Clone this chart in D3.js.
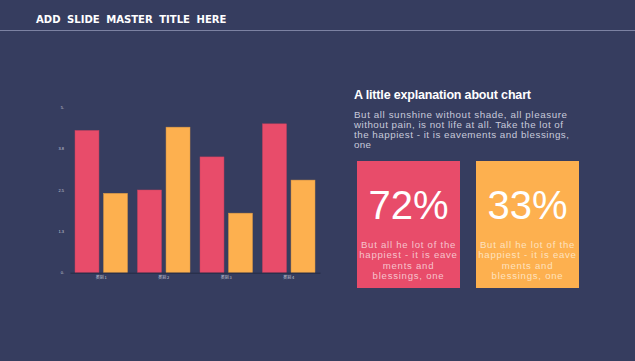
<!DOCTYPE html>
<html><head><meta charset="utf-8">
<script src="https://cdn.jsdelivr.net/npm/d3@7"></script>
<style>
html,body{margin:0;padding:0;background:#363d5f;}
svg{display:block;}
</style></head>
<body>
<svg id="chart" width="635" height="361"></svg>
<script>
const categories = ["类别 1", "类别 2", "类别 3", "类别 4"];
const series1 = [4.3, 2.5, 3.5, 4.5];
const series2 = [2.4, 4.4, 1.8, 2.8];
const tickValues = [0, 1.25, 2.5, 3.75, 5];
const tickLabels = ["0.", "1.3", "2.5", "3.8", "5."];
const cardValues = ["72%", "33%"];
const cardLines = ["But all he lot of the", "happiest - it is eave", "ments and", "blessings, one"];
const bodyLines = ["But all sunshine without shade, all pleasure", "without pain, is not life at all. Take the lot of", "the happiest - it is eavements and blessings,", "one"];
const bodyWidths = [213, 209, 215, 17];

const red = "#e84c6a", orange = "#fdb04f";
const svg = d3.select("#chart");
svg.append("rect").attr("width",635).attr("height",361).attr("fill","#363d5f");

// header
svg.append("text").attr("x",36).attr("y",23).attr("fill","#ffffff")
  .attr("font-family","DejaVu Sans Condensed, DejaVu Sans").attr("font-weight","bold").attr("font-size",11.2)
  .attr("word-spacing",3)
  .text("ADD SLIDE MASTER TITLE HERE");
svg.append("line").attr("x1",0).attr("x2",635).attr("y1",30.5).attr("y2",30.5)
  .attr("stroke","#7c82a2").attr("stroke-width",1);

// chart
const x0 = d3.scaleBand().domain(categories).range([70,320]).paddingInner(0.16).paddingOuter(0.08);
const x1 = d3.scaleBand().domain([0,1]).range([0,x0.bandwidth()]).paddingInner(0.16);
const y = d3.scaleLinear().domain([0,5]).range([272.7,107.3]);

const g = svg.append("g");
const data = categories.map((c,i)=>({c, v:[series1[i], series2[i]]}));
const grp = g.selectAll("g.grp").data(data).join("g").attr("transform",d=>`translate(${x0(d.c)},0)`);
grp.selectAll("rect").data(d=>d.v).join("rect")
  .attr("x",(d,i)=>x1(i)).attr("width",x1.bandwidth())
  .attr("y",d=>y(d)).attr("height",d=>y(0)-y(d))
  .attr("fill",(d,i)=>i===0?red:orange)
  .attr("stroke",(d,i)=>i===0?"#c8415e":"#d99843").attr("stroke-width",0.5);

// axes
const yAxis = d3.axisLeft(y).tickValues(tickValues).tickSize(0).tickPadding(4)
  .tickFormat((d,i)=>tickLabels[i]);
const ya = svg.append("g").attr("transform","translate(68,0)").call(yAxis);
ya.select(".domain").remove();
ya.selectAll("text").attr("fill","#c9ccdc").attr("font-size",4).attr("font-family","Liberation Sans");

const xAxis = d3.axisBottom(x0).tickSize(0).tickPadding(3);
const xa = svg.append("g").attr("transform",`translate(0,${y(0)})`).call(xAxis);
xa.select(".domain").attr("stroke","#252a45").attr("stroke-width",1);
xa.selectAll("text").attr("fill","#c9ccdc").attr("font-size",4).attr("font-family","Noto Sans CJK SC");

// right panel
svg.append("text").attr("x",354).attr("y",99).attr("fill","#ffffff")
  .attr("font-family","Liberation Sans").attr("font-weight","bold").attr("font-size",12.5)
  .attr("textLength",177).attr("lengthAdjust","spacing")
  .text("A little explanation about chart");
svg.append("g").selectAll("text").data(bodyLines).join("text")
  .attr("x",354).attr("y",(d,i)=>117.5+i*10.2)
  .attr("fill","#c8cadb").attr("font-family","Liberation Sans").attr("font-size",9.8)
  .attr("textLength",(d,i)=>bodyWidths[i]).attr("lengthAdjust","spacing")
  .text(d=>d);

const cards = [{x:357, fill:red, txt:"#f6c3cc", v:cardValues[0]}, {x:476, fill:orange, txt:"#fde2bf", v:cardValues[1]}];
const cg = svg.selectAll("g.card").data(cards).join("g").attr("transform",d=>`translate(${d.x},161)`);
cg.append("rect").attr("width",103).attr("height",127).attr("fill",d=>d.fill);
cg.append("text").attr("x",51.5).attr("y",57.5).attr("text-anchor","middle").attr("fill","#fff")
  .attr("font-family","Liberation Sans").attr("font-size",40).text(d=>d.v);
cg.each(function(d){
  d3.select(this).selectAll("text.l").data(cardLines).join("text").attr("class","l")
    .attr("x",51.5).attr("y",(t,i)=>86.5+i*10.5).attr("text-anchor","middle")
    .attr("fill",d.txt).attr("font-family","Liberation Sans").attr("font-size",9.6)
    .attr("letter-spacing",0.75).text(t=>t);
});
</script>
</body></html>
